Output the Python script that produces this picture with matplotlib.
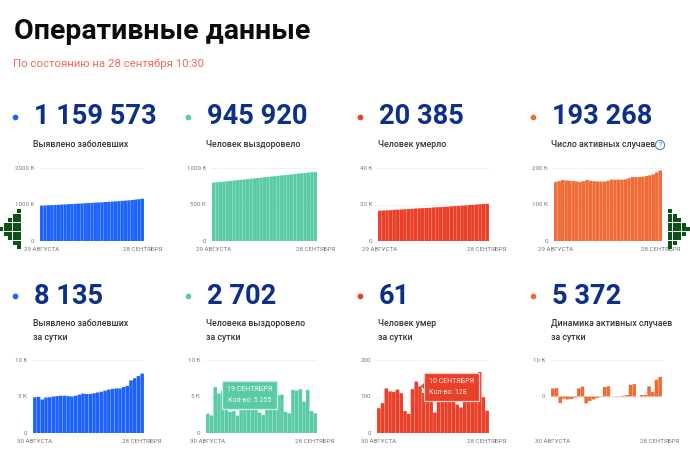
import matplotlib
matplotlib.use("Agg")
import matplotlib.pyplot as plt
from matplotlib.patches import Rectangle, Circle, Polygon

plt.rcParams['font.family'] = ['Roboto', 'DejaVu Sans']

W, H = 690, 471

BLUE = '#1c62fb'
GREEN = '#5bcba6'
RED = '#ea4029'
ORANGE = '#f06b36'
NAVY = '#0c2f88'

# накопленные, тыс.
total_cases = [968, 973, 978, 983, 988, 993, 998, 1003, 1008, 1013, 1018, 1024, 1029, 1034, 1040, 1045,
               1051, 1056, 1062, 1068, 1074, 1080, 1086, 1093, 1100, 1107, 1115, 1123, 1133, 1146, 1159.6]
total_recovered = [800, 805, 810, 814, 819, 824, 829, 834, 838, 843, 848, 853, 858, 863, 868, 873,
                   878, 883, 888, 893, 898, 903, 908, 913, 918, 923, 928, 933, 937, 942, 945.9]
total_deaths = [16.6, 16.7, 16.8, 16.9, 17.1, 17.2, 17.3, 17.4, 17.5, 17.6, 17.8, 17.9, 18.0, 18.1, 18.2, 18.4,
                18.5, 18.6, 18.7, 18.8, 19.0, 19.1, 19.2, 19.4, 19.5, 19.7, 19.8, 20.0, 20.1, 20.3, 20.4]
total_active = [162, 164, 167, 166, 165, 164, 163, 162, 164, 167, 165, 164, 163, 163, 163, 165,
                168, 168, 168, 168, 169, 172, 175, 175, 175, 176, 178, 180, 183, 188, 193.3]

# за сутки
daily_cases = [4.9, 4.95, 4.6, 4.85, 4.9, 5.0, 5.05, 5.1, 5.1, 5.05, 5.0, 5.1, 5.25, 5.4, 5.35,
               5.35, 5.45, 5.55, 5.65, 5.8, 5.95, 6.05, 6.1, 6.1, 6.3, 6.45, 7.2, 7.5, 7.8, 8.135]
daily_recovered = [2.65, 2.4, 6.3, 5.4, 5.8, 5.6, 2.9, 3.0, 2.4, 5.5, 5.6, 5.7, 5.5, 5.3, 2.8,
                   2.5, 5.2, 5.3, 5.4, 5.2, 5.255, 2.9, 2.7, 5.9, 5.8, 6.0, 4.3, 5.9, 3.0, 2.702]
daily_deaths = [68, 82, 122, 114, 113, 119, 109, 60, 52, 120, 141, 128, 110, 98, 115,
                56, 95, 100, 105, 108, 100, 78, 70, 100, 112, 120, 125, 167, 98, 61]
daily_active = [2.2, 2.3, -1.8, -0.6, -0.8, -0.7, -0.3, 2.2, 2.7, -1.9, -1.2, -0.8, -0.4, -0.1, 2.6,
                2.8, 0.05, -0.1, -0.1, 0.2, 0.4, 3.2, 3.4, 0.05, 0.4, 0.4, 2.8, 1.2, 4.6, 5.372]

panels = [
    # значения, цвет, число, подпись, тики, подписи тиков, первая дата, x-левый, x-правый
    (total_cases, BLUE, '1 159 573', 'Выявлено заболевших', [0, 1000, 2000], ['0', '1000 К', '2000 К'], '29 АВГУСТА', 40, 144),
    (total_recovered, GREEN, '945 920', 'Человек выздоровело', [0, 500, 1000], ['0', '500 К', '1000 К'], '29 АВГУСТА', 212, 317),
    (total_deaths, RED, '20 385', 'Человек умерло', [0, 20, 40], ['0', '20 К', '40 К'], '29 АВГУСТА', 378, 489),
    (total_active, ORANGE, '193 268', 'Число активных случаев', [0, 100, 200], ['0', '100 К', '200 К'], '29 АВГУСТА', 554, 662),
    (daily_cases, BLUE, '8 135', 'Выявлено заболевших\nза сутки', [0, 5, 10], ['0', '5 К', '10 К'], '30 АВГУСТА', 33, 144),
    (daily_recovered, GREEN, '2 702', 'Человека выздоровело\nза сутки', [0, 5, 10], ['0', '5 К', '10 К'], '30 АВГУСТА', 206, 317),
    (daily_deaths, RED, '61', 'Человек умер\nза сутки', [0, 100, 200], ['0', '100', '200'], '30 АВГУСТА', 377, 489),
    (daily_active, ORANGE, '5 372', 'Динамика активных случаев\nза сутки', [-10, 0, 10], ['', '0', '10 К'], '30 АВГУСТА', 551, 662),
]

text_x = [33, 206, 378, 551]
dot_x = [15, 188, 360, 533]

fig = plt.figure(figsize=(W / 100, H / 100), dpi=100)

for i, (vals, col, num, label, ticks, ticklabels, first, x0, x1) in enumerate(panels):
    row = i // 4
    top, bottom = (168, 241) if row == 0 else (360, 433)
    ax = fig.add_axes([x0 / W, 1 - bottom / H, (x1 - x0) / W, (bottom - top) / H])
    x = list(range(len(vals)))
    bars = ax.bar(x, vals, width=0.97 if row == 0 else 0.95, color=col, linewidth=0, zorder=3)
    for b in bars:
        b.set_snap(False)
    ax.set_xlim(-0.5, len(vals) - 0.5)
    ax.set_ylim(ticks[0], ticks[-1])
    ax.set_yticks(ticks)
    ax.set_yticklabels(ticklabels)
    ax.set_xticks([0, len(vals) - 1])
    ax.set_xticklabels([first, '28 СЕНТЯБРЯ'])
    ax.tick_params(length=0, labelsize=4.4, labelcolor='#777777')
    ax.tick_params(axis='y', pad=4.3)
    ax.tick_params(axis='x', pad=4.5)
    ax.grid(axis='y', color='#f1f1f1', linewidth=0.7, zorder=0)
    for s in ax.spines.values():
        s.set_visible(False)

# слой для текста и плашек, в пикселях
ov = fig.add_axes([0, 0, 1, 1], zorder=5)
ov.set_xlim(0, W)
ov.set_ylim(H, 0)
ov.axis('off')
ov.patch.set_alpha(0)

ov.text(14, 39, 'Оперативные данные', fontsize=20.5, fontweight='bold', color='#0a0a0a', va='baseline')
ov.text(13, 67, 'По состоянию на 28 сентября 10:30', fontsize=8.2, color='#f4685a', va='baseline')

for i, p in enumerate(panels):
    row = i // 4
    col_i = i % 4
    base = 124.5 if row == 0 else 304
    ov.scatter([dot_x[col_i]], [base - 8], s=17, color=p[1], linewidths=0)
    ov.text(text_x[col_i] + 1, base, p[2], fontsize=19.6, fontweight='bold', color=NAVY, va='baseline')
    ov.text(text_x[col_i], 144.5 if row == 0 else 318.5, p[3], fontsize=6.3, color='#333333', va='center' if row == 0 else 'top',
            linespacing=1.85, fontweight='medium')

# значок вопроса
ov.add_patch(Circle((660, 145), 4.6, fill=False, edgecolor='#4a86d8', linewidth=0.8))
ov.text(660, 145.3, '?', fontsize=5, color='#2f6fc8', ha='center', va='center')

# подсказки
tooltips = [
    (222, 381, 55, 28, GREEN, '#c3f3e3', '19 СЕНТЯБРЯ', 'Кол-во: 5 255'),
    (424, 373, 55, 28, RED, '#f9c9c2', '10 СЕНТЯБРЯ', 'Кол-во: 128'),
]
for tx, ty, tw, th, fc, ec, line1, line2 in tooltips:
    ov.add_patch(Rectangle((tx, ty), tw, th, facecolor=fc, edgecolor=ec, linewidth=0.9))
    ov.text(tx + tw / 2 if fc == GREEN else tx + 5, ty + 8.5, line1, fontsize=5, color='#e9fbf5' if fc == GREEN else '#ffe9e5',
            ha='center' if fc == GREEN else 'left', va='center')
    ov.text(tx + tw / 2 if fc == GREEN else tx + 5, ty + 19.5, line2, fontsize=5, color='#e9fbf5' if fc == GREEN else '#ffe9e5',
            ha='center' if fc == GREEN else 'left', va='center')
ov.add_patch(Polygon([(424, 383), (421, 386), (424, 389)], closed=True, facecolor=RED, edgecolor='none'))

# стрелки по краям из точек
arrow_cols = [1, 3, 5, 7, 9]
arrow_y = 229
step = 4.5
for k, n in enumerate(arrow_cols):
    ys = [arrow_y + (j - (n - 1) / 2) * step for j in range(n)]
    ov.scatter([1 + k * step] * n, ys, s=6, marker='s', color='#0c5216', linewidths=0)
    ov.scatter([688 - k * step] * n, ys, s=6, marker='s', color='#0c5216', linewidths=0)

fig.savefig('out.png', dpi=100)
